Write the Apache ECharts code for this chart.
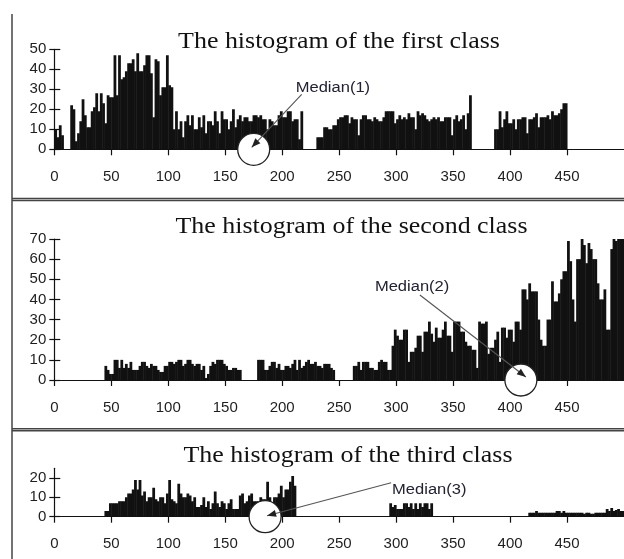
<!DOCTYPE html>
<html><head><meta charset="utf-8">
<script src="https://cdn.jsdelivr.net/npm/echarts@6/dist/echarts.min.js"></script>
<style>html,body{margin:0;padding:0;background:#fff}#c{width:624px;height:559px}</style>
</head><body><div id="c"></div>
<script>
// ---- data ----
const BIN = 2; // bin width (x units)
const titles = ['The histogram of the first class', 'The histogram of the second class', 'The histogram of the third class'];
const yMax = [50, 70, 25];
const yTicks = [[0,10,20,30,40,50],[0,10,20,30,40,50,60,70],[0,10,20]];
const xTicks = [0,50,100,150,200,250,300,350,400,450];
const medians = [175, 409.5, 185];
const medianLabels = ['Median(1)', 'Median(2)', 'Median(3)'];

// bins start at 0, width 2
const class1 = [
10,6,12,7,0,0,0,22,20,4,
8,14,25,17,11,11,19,21,28,19,
28,23,13,27,26,26,47,27,47,35,
36,39,43,43,45,39,48,39,39,42,
47,47,38,16,45,44,27,31,31,47,
32,31,10,19,10,14,6,14,17,12,
17,10,10,16,11,17,8,14,14,12,
19,14,8,19,15,15,10,14,20,11,
15,17,14,16,16,14,14,17,17,16,
17,15,15,10,15,14,12,12,17,19,
16,16,19,19,14,15,15,5,19,0,
0,0,0,0,0,6,6,6,11,11,
10,10,12,12,15,16,16,17,17,13,
16,15,15,7,15,17,17,15,15,14,
16,15,14,14,16,19,19,19,19,13,
15,17,15,16,15,18,16,16,10,19,
17,18,17,15,14,15,16,15,16,14,
14,16,16,16,7,15,17,14,15,17,
10,18,27,0,0,0,0,0,0,0,
0,0,0,10,10,19,11,15,19,13,
13,15,10,15,15,16,16,8,15,15,
16,18,11,16,16,16,17,15,19,17,
17,18,20,23,23,0,0,0,0,0,
0,0,0,0,0,0,0,0,0,0,
0,0,0,0,0,0,0,0,0,0
];
const class2 = [
0,0,0,0,0,0,0,0,0,0,
0,0,0,0,0,0,0,0,0,0,
0,0,7,5,3,3,10,10,6,10,
6,8,6,9,5,5,5,7,9,9,
7,6,8,7,7,5,4,4,7,7,
9,9,8,9,10,10,7,8,10,10,
8,7,8,8,5,7,1,3,7,9,
8,10,10,10,8,7,5,5,6,6,
5,5,0,0,0,0,0,0,0,10,
10,10,5,5,7,9,9,6,8,5,
5,7,7,6,8,10,5,10,6,7,
9,10,8,8,9,7,7,6,8,8,
8,6,5,0,0,0,0,0,0,0,
0,7,7,9,5,9,9,9,6,6,
5,5,9,10,9,9,5,5,17,25,
22,20,20,25,25,9,14,14,16,22,
22,14,24,24,29,23,19,26,21,21,
25,29,22,22,14,29,29,29,24,24,
19,17,17,15,15,6,29,28,28,29,
13,16,16,20,24,9,26,26,21,25,
25,19,29,29,25,45,45,40,48,44,
44,44,30,20,17,17,30,30,49,39,
39,43,50,54,54,69,59,40,29,60,
60,76,67,58,68,65,60,60,48,40,
40,45,25,25,65,76,69,76,76,76
];
const class3 = [
0,0,0,0,0,0,0,0,0,0,
0,0,0,0,0,0,0,0,0,0,
0,0,3,3,7,7,7,7,8,8,
8,10,12,12,14,19,14,19,11,13,
8,10,10,15,9,8,10,10,7,12,
19,9,8,7,17,12,10,10,12,11,
8,10,5,5,6,10,5,8,4,7,
13,7,5,8,7,4,7,9,4,4,
4,11,12,7,8,11,12,8,8,8,
10,9,9,18,10,7,10,10,12,16,
10,14,14,18,21,16,0,0,0,0,
0,0,0,0,0,0,0,0,0,0,
0,0,0,0,0,0,0,0,0,0,
0,0,0,0,0,0,0,0,0,0,
0,0,0,0,0,0,0,7,5,6,
4,4,4,7,7,5,7,4,7,4,
7,5,7,7,4,7,0,0,0,0,
0,0,0,0,0,0,0,0,0,0,
0,0,0,0,0,0,0,0,0,0,
0,0,0,0,0,0,0,0,0,0,
0,0,0,0,0,0,0,0,2,2,
2,3,2,2,2,2,2,2,2,2,
3,3,2,3,2,2,2,2,2,2,
2,2,1.5,2,2,1.5,1.5,2,2,2,
2,2,4,3,4.5,3,3.5,4,3,3
];

// ---- layout ----
const GL = 54.3, GW = 573.5;
const gridTop = [49.3, 239, 468.3];
const gridH = [100, 141, 48.4];
const titlePos = [[339, 42], [351.5, 227], [348, 455.5]];
const INK = '#111';
const TXT = '#1e1e1e';

const chart = echarts.init(document.getElementById('c'));
const all = [class1, class2, class3];

const grids = [], xAxes = [], yAxes = [], series = [];
for (let i = 0; i < 3; i++) {
  grids.push({left: GL, top: gridTop[i], width: GW, height: gridH[i], containLabel: false});
  xAxes.push({
    type: 'value', gridIndex: i, position: 'bottom', min: 0, max: 500, interval: 50,
    axisLine: {show: true, onZero: false, lineStyle: {color: INK, width: 1.2}},
    axisTick: {show: true, length: 6, customValues: xTicks, lineStyle: {color: INK, width: 1.2}},
    axisLabel: {show: true, customValues: xTicks, margin: 20, fontSize: 15, color: TXT, fontFamily: 'Liberation Sans'},
    splitLine: {show: false}
  });
  for (const primary of [true, false]) {
    yAxes.push({
      type: 'value', gridIndex: i, position: 'left', offset: 0, min: 0, max: yMax[i], interval: 10,
      axisLine: {show: primary, onZero: false, lineStyle: {color: INK, width: 1.2}},
      axisTick: {show: true, inside: !primary, length: primary ? 5 : 6, customValues: yTicks[i], lineStyle: {color: INK, width: 1.2}},
      axisLabel: {show: primary, customValues: yTicks[i], margin: 8, fontSize: 15, color: TXT, fontFamily: 'Liberation Sans'},
      splitLine: {show: false}
    });
  }
  series.push({
    type: 'custom', xAxisIndex: i, yAxisIndex: 2 * i, clip: true, z: 2,
    encode: {x: 0, y: 1},
    data: all[i].map((v, k) => [k * BIN, v]),
    renderItem: (params, api) => {
      const x0 = api.value(0), v = api.value(1);
      if (!v) return null;
      const a = api.coord([x0, 0]), b = api.coord([x0 + BIN, v]);
      return {type: 'rect', shape: {x: a[0], y: b[1], width: b[0] - a[0] + 0.5, height: a[1] - b[1]}, style: {fill: INK}};
    }
  });
}

chart.setOption({
  animation: false,
  backgroundColor: '#fff',
  grid: grids, xAxis: xAxes, yAxis: yAxes, series: series
});

// ---- annotations ----
const g = [];
// frame
const fr = {stroke: '#444', lineWidth: 1.5};
g.push({type: 'line', shape: {x1: 12, y1: 14, x2: 12, y2: 559}, style: fr, z: 50});
[198.5, 200.5, 428.8, 430.8].forEach(y => g.push({type: 'line', shape: {x1: 12, y1: y, x2: 624, y2: y}, style: fr, z: 50}));

titles.forEach((t, i) => {
  g.push({type: 'text', x: titlePos[i][0], y: titlePos[i][1], scaleX: 1.08, z: 60,
    style: {text: t, x: 0, y: 0, align: 'center', verticalAlign: 'middle', font: '24px "Liberation Serif"', fill: '#111'}});
});

// offsets relative to circle centre: arrow tip, line start, label left/middle
const ann = [
  {tip: [-2, -2], from: [48, -55], label: [42, -61]},
  {tip: [5, -3], from: [-101, -85], label: [-146, -93]},
  {tip: [2, -1], from: [126, -34], label: [127, -27]}
];
for (let i = 0; i < 3; i++) {
  const c = chart.convertToPixel({seriesIndex: i}, [medians[i], 0]);
  const a = ann[i];
  const tx = c[0] + a.tip[0], ty = c[1] + a.tip[1];
  const fx = c[0] + a.from[0], fy = c[1] + a.from[1];
  g.push({type: 'circle', shape: {cx: c[0], cy: c[1], r: 16}, style: {fill: '#fff', stroke: '#222', lineWidth: 1.3}, z: 70});
  g.push({type: 'line', shape: {x1: fx, y1: fy, x2: tx, y2: ty}, style: {stroke: '#555', lineWidth: 1.1}, z: 71});
  const len = Math.hypot(tx - fx, ty - fy), dx = (tx - fx) / len, dy = (ty - fy) / len;
  const L = 9, W = 3.5, bx = tx - dx * L, by = ty - dy * L;
  g.push({type: 'polygon', shape: {points: [[tx, ty], [bx - dy * W, by + dx * W], [bx + dy * W, by - dx * W]]}, style: {fill: '#222'}, z: 72});
  g.push({type: 'text', x: c[0] + a.label[0], y: c[1] + a.label[1], scaleX: 1.18, z: 73,
    style: {text: medianLabels[i], x: 0, y: 0, align: 'left', verticalAlign: 'middle', font: '14px "Liberation Sans"', fill: '#223'}});
}
chart.setOption({graphic: {elements: g}});
</script></body></html>
